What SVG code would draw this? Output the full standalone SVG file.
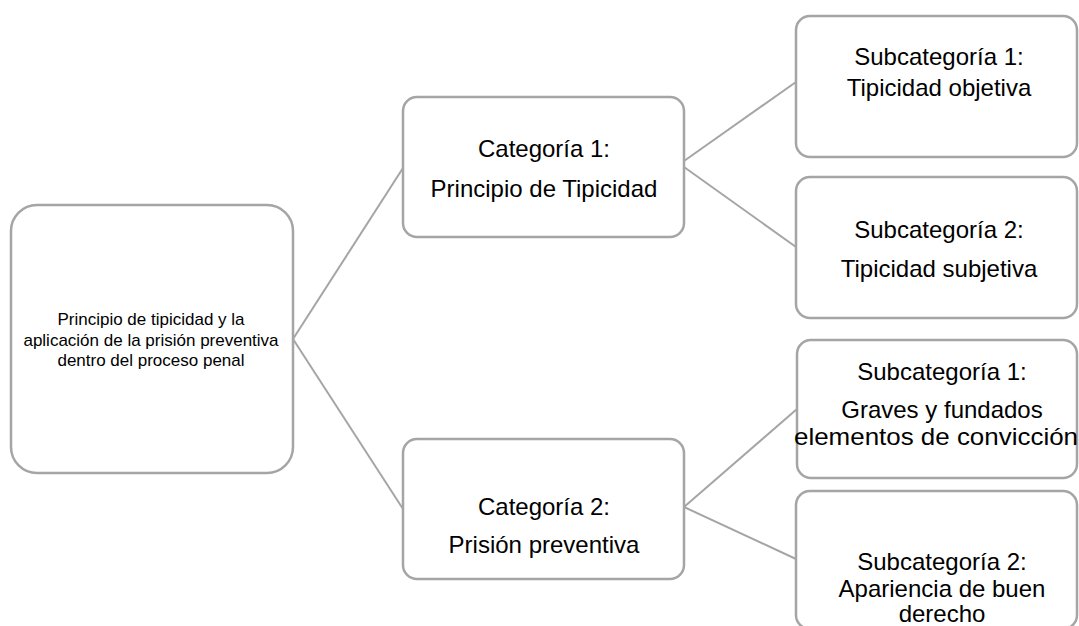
<svg xmlns="http://www.w3.org/2000/svg" width="1079" height="626" viewBox="0 0 1079 626">
<style>
.box{fill:#ffffff;stroke:#a5a5a5;stroke-width:2.5}
.con{stroke:#a5a5a5;stroke-width:2;fill:none}
text{font-family:"Liberation Sans",Arial,sans-serif;fill:#000000;text-anchor:middle}
.r{font-size:17px}
.c{font-size:24px}
</style>
<rect width="1079" height="626" fill="#ffffff"/>
<g id="connectors">
<line class="con" x1="293" y1="339" x2="403" y2="168"/>
<line class="con" x1="293" y1="339" x2="403" y2="509"/>
<line class="con" x1="684" y1="161" x2="796" y2="82"/>
<line class="con" x1="684" y1="167" x2="796" y2="247"/>
<line class="con" x1="684" y1="507" x2="797" y2="409"/>
<line class="con" x1="684" y1="507" x2="796" y2="559" stroke="#b0b0b0"/>
</g>
<g id="root">
<rect class="box" x="11" y="205" width="282" height="268" rx="26"/>
<text class="r" x="151" y="325">Principio de tipicidad y la</text>
<text class="r" x="151" y="346">aplicación de la prisión preventiva</text>
<text class="r" x="151" y="366">dentro del proceso penal</text>
</g>
<g id="cat1">
<rect class="box" x="403" y="97" width="281" height="140" rx="14"/>
<text class="c" x="544" y="157">Categoría 1:</text>
<text class="c" x="544" y="197">Principio de Tipicidad</text>
</g>
<g id="cat2">
<rect class="box" x="403" y="439" width="281" height="140" rx="14"/>
<text class="c" x="544" y="515">Categoría 2:</text>
<text class="c" x="544" y="553">Prisión preventiva</text>
</g>
<g id="sub1">
<rect class="box" x="796" y="16" width="281" height="141" rx="14"/>
<text class="c" x="939" y="65">Subcategoría 1:</text>
<text class="c" x="939" y="96">Tipicidad objetiva</text>
</g>
<g id="sub2">
<rect class="box" x="796" y="177" width="281" height="141" rx="14"/>
<text class="c" x="939" y="238">Subcategoría 2:</text>
<text class="c" x="939" y="277">Tipicidad subjetiva</text>
</g>
<g id="sub3">
<rect class="box" x="797" y="340" width="280" height="138" rx="14"/>
<text class="c" x="942" y="380">Subcategoría 1:</text>
<text class="c" x="942" y="418">Graves y fundados</text>
<text class="c" x="936" y="445" textLength="284" lengthAdjust="spacingAndGlyphs">elementos de convicción</text>
</g>
<g id="sub4">
<rect class="box" x="796" y="491" width="281" height="138" rx="14"/>
<text class="c" x="942" y="570">Subcategoría 2:</text>
<text class="c" x="942" y="597">Apariencia de buen</text>
<text class="c" x="942" y="622">derecho</text>
</g>
</svg>
